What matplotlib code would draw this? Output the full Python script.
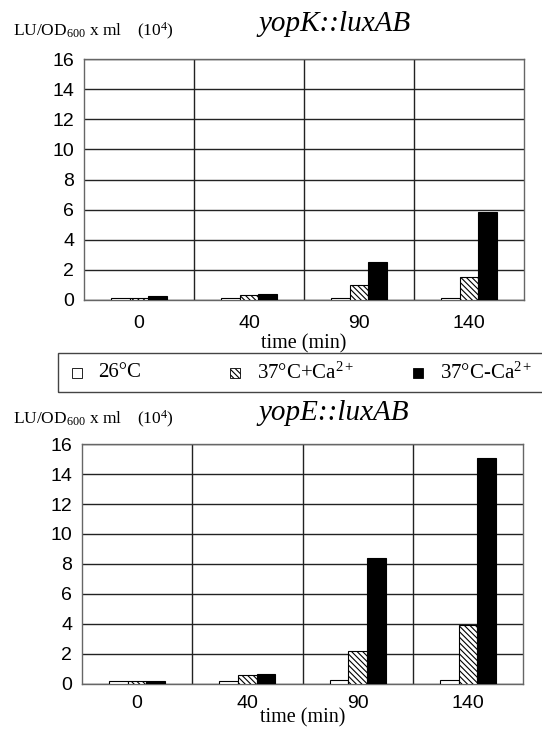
import numpy as np
import matplotlib
matplotlib.use("Agg")
import matplotlib.pyplot as plt
from matplotlib.patches import Rectangle

plt.rcParams['mathtext.fontset'] = 'custom'
plt.rcParams['mathtext.rm'] = 'Liberation Serif'
plt.rcParams['mathtext.it'] = 'Liberation Serif:italic'
plt.rcParams['hatch.linewidth'] = 0.8

# ---- data ----
times = ["0", "40", "90", "140"]
series = ["26°C", "37°C+Ca$^{2+}$", "37°C-Ca$^{2+}$"]
yopK_26 = [0.15, 0.15, 0.15, 0.15]
yopK_37ca = [0.15, 0.35, 1.0, 1.55]
yopK_37noca = [0.25, 0.4, 2.5, 5.85]
yopE_26 = [0.22, 0.22, 0.25, 0.3]
yopE_37ca = [0.2, 0.6, 2.2, 3.95]
yopE_37noca = [0.22, 0.65, 8.4, 15.1]
yticks = [0, 2, 4, 6, 8, 10, 12, 14, 16]

W, H = 542, 730
fig = plt.figure(figsize=(W / 100, H / 100), dpi=100)

def fx(x):
    return x / W

def fy(y):
    return 1 - y / H

styles = [dict(facecolor="white", hatch=None),
          dict(facecolor="white", hatch="\\\\\\\\\\\\"),
          dict(facecolor="black", hatch=None)]

def panel(rect, data, title, ylab_y, title_y, tick_dy, xlab_dy):
    l, t, r, b = rect
    ax = fig.add_axes([fx(l), fy(b), fx(r) - fx(l), fy(t) - fy(b)])
    x = np.arange(len(times))
    w = 0.17
    for i, vals in enumerate(data):
        ax.bar(x + (i - 1) * w, vals, w, edgecolor="black", linewidth=0.8,
               zorder=3, **styles[i])
    ax.set_xlim(-0.5, 3.5)
    ax.set_ylim(0, 16)
    ax.set_yticks(yticks)
    ax.set_yticklabels([str(v) for v in yticks], family="Liberation Sans",
                       fontsize=14)
    ax.set_xticks(x)
    ax.set_xticklabels(times, family="Liberation Sans", fontsize=14)
    ax.set_xticks([0.5, 1.5, 2.5], minor=True)
    ax.tick_params(axis="both", which="both", length=0)
    ax.tick_params(axis="y", pad=7)
    ax.tick_params(axis="x", pad=tick_dy)
    ax.grid(True, axis="y", which="major", color="#222222", linewidth=1.0)
    ax.grid(True, axis="x", which="minor", color="#222222", linewidth=1.0)
    ax.set_axisbelow(True)
    for s in ax.spines.values():
        s.set_color("#666666")
        s.set_linewidth(1.0)
    fig.text(fx((l + r) / 2), fy(b + xlab_dy), "time (min)",
             family="Liberation Serif", fontsize=14.5, ha="center", va="center")
    fig.text(fx(13), fy(ylab_y), "LU/OD$_{600}$ x ml", family="Liberation Serif",
             fontsize=12.5, ha="left", va="baseline")
    fig.text(fx(137), fy(ylab_y), "(10$^4$)", family="Liberation Serif",
             fontsize=12.5, ha="left", va="baseline")
    fig.text(fx(258), fy(title_y), title, family="Liberation Serif",
             style="italic", fontsize=21, ha="left", va="baseline")
    return ax

panel((84, 59, 524, 300), [yopK_26, yopK_37ca, yopK_37noca], "yopK::luxAB",
      36, 31, 11, 44)
panel((82, 444, 523, 684), [yopE_26, yopE_37ca, yopE_37noca], "yopE::luxAB",
      424, 420, 8, 34)

# legend box
fig.patches.append(Rectangle((fx(58), fy(392)), fx(560) - fx(58), fy(353) - fy(392),
                             transform=fig.transFigure, facecolor="none",
                             edgecolor="#444444", linewidth=1.0, clip_on=False))
sq = 10
for xs, xt, st, lab in zip([72, 230, 413], [98, 257, 440], styles, series):
    fig.patches.append(Rectangle((fx(xs), fy(373 + sq / 2)), sq / W, sq / H,
                                 transform=fig.transFigure, edgecolor="black",
                                 linewidth=0.6, **st))
    fig.text(fx(xt), fy(373), lab, family="Liberation Serif", fontsize=15,
             ha="left", va="center")

fig.savefig("out.png", dpi=100)
